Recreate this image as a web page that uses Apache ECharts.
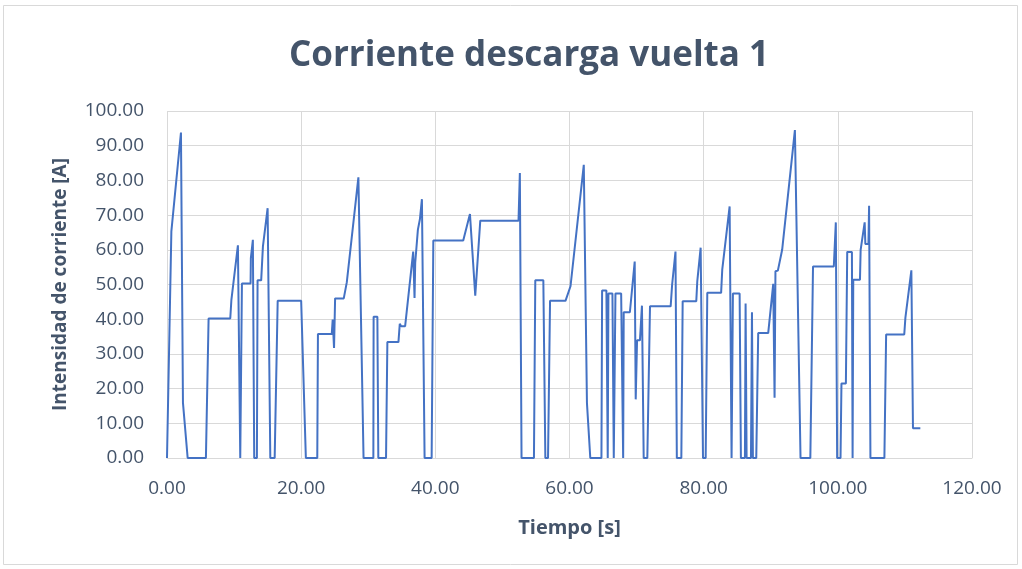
<!DOCTYPE html>
<html>
<head>
<meta charset="utf-8">
<script src="https://cdn.jsdelivr.net/npm/echarts@6/dist/echarts.min.js"></script>
<style>
  html, body { margin: 0; padding: 0; background: #fff; }
  #chart { width: 1022px; height: 569px; }
</style>
</head>
<body>
<div id="chart"></div>
<script>
// tiempo [s] y corriente [A]
const timeS = [
  0, 0.65, 2.08, 2.38, 3.08, 5.8, 6.2, 9.43, 9.6, 10.57, 10.92, 11.17, 12.46, 12.5, 12.8, 13.0, 13.4, 13.5, 14.04, 14.3,
  15.0, 15.2, 15.4, 16.05, 16.5, 20.0, 20.7, 22.4, 22.5, 24.56, 24.7, 24.9, 25.06, 26.35, 26.8, 28.53, 29.3, 30.76, 30.8, 31.36,
  31.5, 32.65, 32.85, 34.5, 34.7, 34.9, 35.5, 36.7, 36.9, 37.0, 37.4, 37.7, 37.85, 38.0, 38.15, 38.4, 39.45, 39.7, 44.16, 45.16,
  45.95, 46.7, 52.4, 52.6, 52.85, 54.7, 54.9, 56.1, 56.4, 56.8, 57.1, 59.4, 60.15, 62.13, 62.6, 63.1, 64.76, 64.86, 65.5, 65.7,
  65.8, 66.4, 66.6, 66.85, 67.7, 68.0, 68.08, 69.0, 69.72, 69.87, 70.07, 70.5, 70.8, 71.06, 71.6, 72.0, 75.08, 75.3, 75.8, 76.0,
  76.67, 76.87, 78.9, 79.05, 79.55, 79.9, 80.3, 80.54, 82.6, 82.77, 83.87, 84.16, 84.36, 85.36, 85.55, 86.15, 86.25, 86.4, 87.05, 87.2,
  87.34, 87.84, 88.13, 89.62, 90.37, 90.57, 90.7, 91.06, 91.7, 93.6, 94.44, 95.9, 96.3, 99.4, 99.7, 99.9, 100.4, 100.54, 101.2, 101.4,
  102.1, 102.2, 102.3, 103.3, 103.4, 104.0, 104.1, 104.56, 104.66, 104.86, 106.94, 107.2, 109.9, 110.07, 110.96, 111.2, 112.3
];
const currentA = [
  0, 65.3, 93.8, 15.9, 0, 0, 40.2, 40.2, 45.6, 61.3, 0, 50.3, 50.3, 57.6, 62.9, 0, 0, 51.2, 51.2, 61,
  72, 71.5, 0, 0, 45.3, 45.3, 0, 0, 35.7, 35.7, 39.9, 31.7, 46.0, 46.0, 50.6, 80.9, 0, 0, 40.7, 40.7,
  0, 0, 33.4, 33.4, 38.7, 38.0, 38.0, 59.5, 46.1, 56.2, 65.8, 68.8, 68.8, 74.6, 74.6, 0, 0, 62.7, 62.7, 70.3,
  46.8, 68.4, 68.4, 82.1, 0, 0, 51.2, 51.2, 0, 0, 45.3, 45.3, 49.5, 84.5, 15.9, 0, 0, 48.3, 48.3, 0,
  47.4, 47.4, 0, 47.4, 47.4, 0, 42.0, 42.0, 56.6, 16.9, 33.9, 33.9, 43.9, 0, 0, 43.7, 43.7, 50, 59.5, 0,
  0, 45.2, 45.2, 51, 60.6, 0, 0, 47.6, 47.6, 54.3, 72.5, 0, 47.4, 47.4, 0, 0, 44.5, 0, 0, 42.0,
  0, 0, 36.0, 36.0, 50.2, 17.4, 53.8, 54.0, 60.0, 94.5, 0, 0, 55.2, 55.2, 67.9, 0, 0, 21.5, 21.5, 59.4,
  59.4, 0, 51.4, 51.4, 60.0, 67.9, 61.7, 61.7, 72.7, 0, 0, 35.6, 35.6, 40.4, 54.1, 8.6, 8.6
];
const xTicks = { min: 0, max: 120, step: 20 };
const yTicks = { min: 0, max: 100, step: 10 };

const points = timeS.map((t, i) => [t, currentA[i]]);
const textColor = '#44546A';

let myChart = echarts.init(document.getElementById('chart'));
myChart.setOption({
  backgroundColor: '#FFFFFF',
  animation: false,
  textStyle: { fontFamily: 'Open Sans' },
  title: {
    text: 'Corriente descarga vuelta 1',
    left: 284,
    top: 34,
    textStyle: { fontSize: 35, fontWeight: 'bold', color: textColor, fontFamily: 'Open Sans' }
  },
  graphic: [{
    type: 'rect',
    shape: { x: 3.5, y: 5.5, width: 1014, height: 559 },
    style: { fill: 'none', stroke: '#D9D9D9', lineWidth: 1 },
    silent: true
  }],
  grid: { left: 167, right: 50, top: 111, bottom: 111 },
  xAxis: {
    type: 'value',
    min: xTicks.min, max: xTicks.max, interval: xTicks.step,
    name: 'Tiempo [s]',
    nameLocation: 'middle',
    nameGap: 60,
    nameTextStyle: { fontSize: 20, fontWeight: 'bold', color: textColor },
    axisLine: { show: true, lineStyle: { color: '#D9D9D9' } },
    axisTick: { show: false },
    axisLabel: { fontSize: 19, color: textColor, margin: 21, formatter: v => v.toFixed(2) },
    splitLine: { show: true, lineStyle: { color: '#D9D9D9' } }
  },
  yAxis: {
    type: 'value',
    min: yTicks.min, max: yTicks.max, interval: yTicks.step,
    name: 'Intensidad de corriente [A]',
    nameLocation: 'middle',
    nameGap: 97,
    nameTextStyle: { fontSize: 19, fontWeight: 'bold', color: textColor },
    axisLine: { show: false },
    axisTick: { show: false },
    axisLabel: { fontSize: 19, color: textColor, margin: 23, formatter: v => v.toFixed(2) },
    splitLine: { show: true, lineStyle: { color: '#D9D9D9' } }
  },
  series: [{
    type: 'line',
    data: points,
    symbol: 'none',
    smooth: false,
    lineStyle: { color: '#4472C4', width: 2 }
  }]
});
</script>
</body>
</html>
